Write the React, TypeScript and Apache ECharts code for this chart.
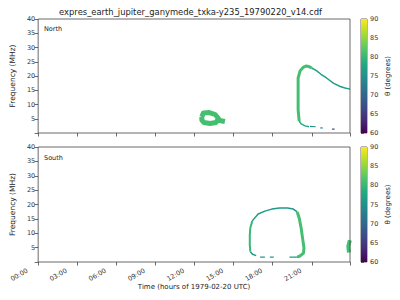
import React, { useEffect, useRef } from "react";
import * as echarts from "echarts";

// ---- data (hours, MHz) ----
const xTicks = [0, 3, 6, 9, 12, 15, 18, 21];
const yTicks = [5, 10, 15, 20, 25, 30, 35, 40];
const cbTicks = [60, 65, 70, 75, 80, 85, 90];

// North panel
const northBlob = [[12.56, 5.61], [12.68, 7.02], [13.13, 7.19], [13.58, 6.49], [13.84, 5.09], [13.65, 3.68], [13.2, 3.33], [12.71, 3.68], [12.56, 4.56], [12.56, 5.61]];
const northBlobTail = [[13.73, 4.56], [14.33, 4.04]];
const northBlobTheta = 81;
const northArcMain = [[20.03, 4.2], [19.95, 8.1], [19.95, 15.1], [19.95, 19.3], [20.1, 21.8], [20.33, 23.0], [20.55, 23.5], [20.78, 23.3], [21.0, 22.8]];
const northArcMainTheta = 81;
const northArcTail = [[21.0, 22.8], [21.38, 21.8], [21.68, 20.7], [22.13, 19.3], [22.65, 17.5], [23.18, 16.3], [23.55, 15.8], [23.93, 15.4]];
const northArcTailTheta = 77;
const northHook = [[20.03, 4.2], [20.18, 3.2], [20.48, 2.5], [20.78, 2.2]];
const northHookTheta = 78;
const northDash1 = [[20.85, 2.3], [21.3, 2.2]];
const northDash1Theta = 75;
const northDash2 = [[21.65, 1.8], [21.85, 1.75]];
const northDash2Theta = 73;
const northDash3 = [[22.55, 1.35], [22.75, 1.35]];
const northDash3Theta = 68;

// South panel
const southLoopBottomLeft = [[16.73, 2.2], [16.45, 2.7], [16.28, 3.6]];
const southLoopLeft = [[16.28, 3.6], [16.24, 5.9], [16.24, 9.4], [16.28, 11.8], [16.43, 14.3]];
const southLoopLeftTheta = 80;
const southLoopTop = [[16.43, 14.3], [16.88, 16.7], [17.4, 17.7], [17.93, 18.4], [18.53, 18.8], [19.13, 18.8], [19.58, 18.4], [19.88, 17.4]];
const southLoopTopTheta = 76;
const southLoopRight = [[19.88, 17.4], [20.03, 15.3], [20.18, 11.8], [20.29, 8.3], [20.4, 4.9], [20.36, 3.1], [20.1, 2.1], [19.9, 1.8]];
const southLoopRightTheta = 81;
const southDash1 = [[19.28, 1.7], [19.95, 1.7]];
const southDash2 = [[17.78, 1.7], [18.08, 1.7]];
const southDash3 = [[17.03, 1.7], [17.4, 1.7]];
const southDashTheta = 76;
const southPatch = [[23.92, 7.6], [23.8, 5.5], [23.85, 3.3]];
const southPatchTheta = 81;

const VIRIDIS = ["#440154", "#482475", "#414487", "#355f8d", "#2a788e", "#21918c", "#22a884", "#44bf70", "#7ad151", "#bddf26", "#fde725"];

function hexToRgb(h: string) {
  return [parseInt(h.slice(1, 3), 16), parseInt(h.slice(3, 5), 16), parseInt(h.slice(5, 7), 16)];
}
function viridis(theta: number) {
  const t = Math.max(0, Math.min(1, (theta - 60) / 30)) * 10;
  const i = Math.min(9, Math.floor(t));
  const f = t - i;
  const a = hexToRgb(VIRIDIS[i]);
  const b = hexToRgb(VIRIDIS[i + 1]);
  const c = a.map((v, k) => Math.round(v + (b[k] - v) * f));
  return `rgb(${c[0]},${c[1]},${c[2]})`;
}

const FONT = "DejaVu Sans";

export default function App() {
  const ref = useRef<HTMLDivElement>(null);
  useEffect(() => {
    document.body.style.margin = "0";
    const chart = echarts.init(ref.current!, null, { renderer: "svg" });

    const line = (data: number[][], theta: number, width: number, grid: number) => ({
      type: "line",
      xAxisIndex: grid,
      yAxisIndex: grid,
      data,
      showSymbol: false,
      symbol: "none",
      clip: true,
      lineStyle: { color: viridis(theta), width, join: "round" },
    });

    const gradient = {
      type: "linear", x: 0, y: 1, x2: 0, y2: 0,
      colorStops: VIRIDIS.map((c, i) => ({ offset: i / 10, color: c })),
    };
    const cbSeries = (idx: number) => ({
      type: "custom",
      xAxisIndex: idx,
      yAxisIndex: idx,
      data: [[0, 60]],
      renderItem: (_p: any, api: any) => {
        const p0 = api.coord([0, 90]);
        const p1 = api.coord([1, 60]);
        return { type: "rect", shape: { x: p0[0], y: p0[1], width: p1[0] - p0[0], height: p1[1] - p0[1] }, style: { fill: gradient } };
      },
    });

    const fmtTime = (v: number) => (v < 10 ? "0" : "") + v + ":00";
    const xAxisBase = (grid: number, labels: boolean) => ({
      type: "value", gridIndex: grid, min: 0, max: 23.93, interval: 3,
      axisLine: { show: false },
      axisTick: { show: true, length: 3.5, lineStyle: { color: "#444", width: 0.8 } },
      splitLine: { show: false },
      axisLabel: labels
        ? { show: true, formatter: (v: number) => (xTicks.includes(v) ? fmtTime(v) : ""), rotate: 30, padding: [0, 12.5, 0, 0], fontSize: 6.5, color: "#333", fontFamily: FONT, margin: 2 }
        : { show: false },
      ...(labels ? { name: "Time (hours of 1979-02-20 UTC)", nameLocation: "middle", nameGap: 21, nameMoveOverlap: false, nameTextStyle: { fontSize: 7, color: "#222", fontFamily: FONT } } : {}),
    });
    const yAxisBase = (grid: number) => ({
      type: "value", gridIndex: grid, min: 0, max: 40, interval: 5,
      axisLine: { show: false },
      axisTick: { show: true, length: 3.5, lineStyle: { color: "#444", width: 0.8 } },
      splitLine: { show: false },
      axisLabel: { formatter: (v: number) => (yTicks.includes(v) ? String(v) : ""), fontSize: 6.5, color: "#333", fontFamily: FONT, margin: 3 },
      name: "Frequency (MHz)", nameLocation: "middle", nameGap: 18, nameRotate: 90,
      nameTextStyle: { fontSize: 7.5, color: "#222", fontFamily: FONT },
    });
    const cbX = (grid: number) => ({ type: "value", gridIndex: grid, min: 0, max: 1, show: false });
    const cbY = (grid: number) => ({
      type: "value", gridIndex: grid, min: 60, max: 90, interval: 5, position: "right",
      axisLine: { show: false },
      axisTick: { show: true, length: 3, lineStyle: { color: "#444", width: 0.8 } },
      splitLine: { show: false },
      axisLabel: { formatter: (v: number) => (cbTicks.includes(v) ? String(v) : ""), fontSize: 6.5, color: "#333", fontFamily: FONT, margin: 3 },
      name: "θ (degrees)", nameLocation: "middle", nameGap: 17, nameRotate: 90,
      nameTextStyle: { fontSize: 7, color: "#222", fontFamily: FONT },
    });

    const gridStyle = { show: true, borderColor: "#444", borderWidth: 0.8, backgroundColor: "transparent" };

    chart.setOption({
      animation: false,
      backgroundColor: "#fff",
      grid: [
        { left: 31, top: 19, width: 319, height: 114, ...gridStyle, z: 10 },
        { left: 31, top: 147, width: 319, height: 115, ...gridStyle, z: 10 },
        { left: 361, top: 19, width: 6, height: 114, ...gridStyle },
        { left: 361, top: 147, width: 6, height: 115, ...gridStyle },
      ],
      xAxis: [xAxisBase(0, false), xAxisBase(1, true), cbX(2), cbX(3)],
      yAxis: [yAxisBase(0), yAxisBase(1), cbY(2), cbY(3)],
      graphic: [
        { type: "text", x: 190.5, y: 11.5, style: { text: "expres_earth_jupiter_ganymede_txka-y235_19790220_v14.cdf", fontSize: 8.4, fontFamily: FONT, fill: "#222", align: "center", verticalAlign: "middle" } },
        { type: "text", x: 44, y: 29, style: { text: "North", fontSize: 6.5, fontFamily: FONT, fill: "#222", verticalAlign: "middle" } },
        { type: "text", x: 44, y: 158, style: { text: "South", fontSize: 6.5, fontFamily: FONT, fill: "#222", verticalAlign: "middle" } },
      ],
      series: [
        line(northBlob, northBlobTheta, 5, 0),
        line(northBlobTail, northBlobTheta, 5, 0),
        line(northArcMain, northArcMainTheta, 3, 0),
        line(northArcTail, northArcTailTheta, 1.5, 0),
        line(northHook, northHookTheta, 1.5, 0),
        line(northDash1, northDash1Theta, 1.2, 0),
        line(northDash2, northDash2Theta, 1.2, 0),
        line(northDash3, northDash3Theta, 1.2, 0),
        line(southLoopBottomLeft, southLoopTopTheta, 1.5, 1),
        line(southLoopLeft, southLoopLeftTheta, 2, 1),
        line(southLoopTop, southLoopTopTheta, 1.5, 1),
        line(southLoopRight, southLoopRightTheta, 3, 1),
        line(southDash1, southDashTheta, 1.2, 1),
        line(southDash2, southDashTheta, 1.2, 1),
        line(southDash3, southDashTheta, 1.2, 1),
        line(southPatch, southPatchTheta, 4, 1),
        cbSeries(2),
        cbSeries(3),
      ],
    });
    return () => chart.dispose();
  }, []);
  return <div ref={ref} style={{ width: 400, height: 300 }} />;
}
